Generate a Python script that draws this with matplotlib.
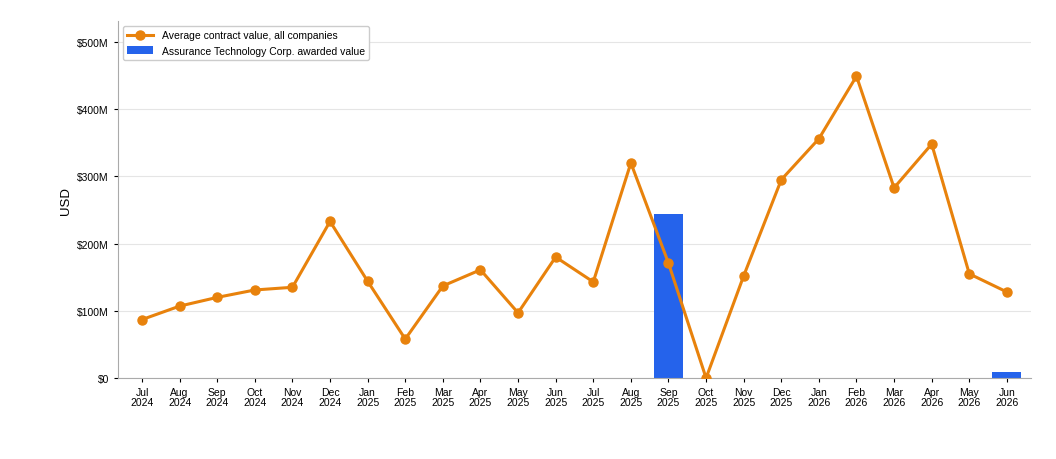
import matplotlib
matplotlib.use("Agg")
import matplotlib.pyplot as plt
from matplotlib.ticker import FuncFormatter

plt.rcParams['font.family'] = ['Liberation Sans', 'DejaVu Sans']

months = ["Jul\n2024", "Aug\n2024", "Sep\n2024", "Oct\n2024", "Nov\n2024", "Dec\n2024",
          "Jan\n2025", "Feb\n2025", "Mar\n2025", "Apr\n2025", "May\n2025", "Jun\n2025",
          "Jul\n2025", "Aug\n2025", "Sep\n2025", "Oct\n2025", "Nov\n2025", "Dec\n2025",
          "Jan\n2026", "Feb\n2026", "Mar\n2026", "Apr\n2026", "May\n2026", "Jun\n2026"]

avg_value_m = [87, 107, 120, 131, 135, 233, 144, 58, 137, 161, 97, 180,
               143, 320, 171, 0, 152, 295, 356, 449, 283, 348, 155, 128]

awarded_m = [0, 0, 0, 0, 0, 0, 0, 0, 0, 0, 0, 0,
             0, 0, 244, 0, 0, 0, 0, 0, 0, 0, 0, 9]

yticks_m = [0, 100, 200, 300, 400, 500]

fig = plt.figure(figsize=(10.56, 4.6), dpi=100)
ax = fig.add_axes([0.1117, 0.176, 0.8646, 0.776])

x = list(range(len(months)))
ax.bar(x, [v * 1e6 for v in awarded_m], width=0.77, color="#2563EB",
       label="Assurance Technology Corp. awarded value", zorder=2)
ax.plot(x, [v * 1e6 for v in avg_value_m], color="#E8820C", lw=2.2, marker="o",
        markersize=6.5, label="Average contract value, all companies", zorder=3)

ax.set_xlim(-0.64, len(months) - 1 + 0.64)
ax.set_ylim(0, 531e6)
ax.set_xticks(x)
ax.set_xticklabels(months, fontsize=7.5, linespacing=1.0)
ax.set_yticks([v * 1e6 for v in yticks_m])
ax.yaxis.set_major_formatter(FuncFormatter(lambda v, p: "$0" if v == 0 else f"${v/1e6:.0f}M"))
ax.tick_params(axis='y', labelsize=7.5, length=3)
ax.tick_params(axis='x', length=3)
ax.set_ylabel("USD", fontsize=9.5)
ax.grid(axis='y', color="#e5e5e5", lw=0.8, zorder=0)
ax.set_axisbelow(True)
for s in ("top", "right"):
    ax.spines[s].set_visible(False)
for s in ("left", "bottom"):
    ax.spines[s].set_color("#aaaaaa")

ax.legend(loc="upper left", fontsize=7.5, frameon=True,
          framealpha=1, edgecolor="#cccccc", borderaxespad=0.5, handlelength=2.5)

fig.savefig("out.png", dpi=100)
